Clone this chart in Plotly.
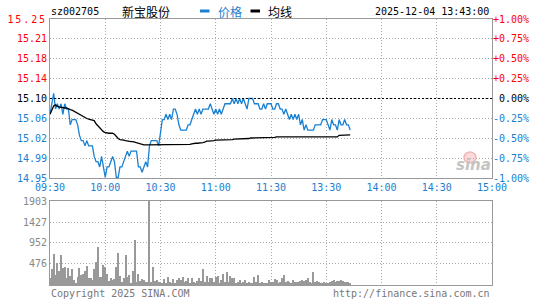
import plotly.graph_objects as go

W, H = 545, 300

prev_close = 15.10
stock_code = "sz002705"
stock_name = "新宝股份"
timestamp = "2025-12-04 13:43:00"

price = [
    15.07, 15.09, 15.11, 15.08, 15.09, 15.08, 15.09, 15.07, 15.09, 15.08,
    15.08, 15.05, 15.06, 15.06, 15.06, 15.05, 15.03, 15.02, 15.02, 15.01,
    15.02, 15.01, 15.01, 15.01, 14.99, 14.98, 14.98, 14.97, 14.99, 14.97,
    14.95, 14.97, 14.97, 14.98, 14.99, 14.98, 14.95, 14.95, 14.97, 14.97,
    14.98, 14.99, 15.00, 14.99, 15.00, 15.00, 15.00, 15.00, 14.97, 14.97,
    14.96, 14.97, 14.98, 14.97, 15.01, 15.02, 15.02, 15.02, 15.02, 15.01,
    15.04, 15.06, 15.06, 15.07, 15.06, 15.07, 15.06, 15.08, 15.08, 15.07,
    15.05, 15.04, 15.04, 15.04, 15.04, 15.05, 15.05, 15.06, 15.07, 15.08,
    15.07, 15.08, 15.07, 15.08, 15.08, 15.08, 15.08, 15.09, 15.08, 15.07,
    15.08, 15.07, 15.08, 15.07, 15.08, 15.09, 15.09, 15.09, 15.09, 15.10,
    15.09, 15.10, 15.09, 15.10, 15.09, 15.10, 15.09, 15.08, 15.10, 15.10,
    15.10, 15.09, 15.09, 15.09, 15.08, 15.08, 15.09, 15.08, 15.09, 15.09,
    15.09, 15.08, 15.08, 15.09, 15.09, 15.08, 15.08, 15.07, 15.08, 15.07,
    15.06, 15.07, 15.06, 15.07, 15.06, 15.07, 15.05, 15.06, 15.04, 15.05,
    15.04, 15.04, 15.04, 15.04, 15.05, 15.05, 15.05, 15.05, 15.06, 15.06,
    15.06, 15.05, 15.04, 15.06, 15.05, 15.05, 15.04, 15.06, 15.05, 15.05,
    15.06, 15.05, 15.05, 15.04,
]

avg_price = [
    15.070, 15.080, 15.086, 15.088, 15.085, 15.084, 15.083, 15.083, 15.082, 15.082,
    15.080, 15.079, 15.078, 15.076, 15.073, 15.072, 15.070, 15.068, 15.066, 15.064,
    15.062, 15.061, 15.060, 15.059, 15.058, 15.052, 15.048, 15.044, 15.040, 15.037,
    15.035, 15.034, 15.034, 15.034, 15.034, 15.032, 15.027, 15.024, 15.022, 15.022,
    15.021, 15.020, 15.019, 15.018, 15.018, 15.018, 15.017, 15.015, 15.014, 15.013,
    15.013, 15.012, 15.012, 15.012, 15.012, 15.012, 15.012, 15.012, 15.012, 15.012,
    15.012, 15.012, 15.012, 15.012, 15.012, 15.012, 15.012, 15.013, 15.013, 15.013,
    15.013, 15.013, 15.013, 15.013, 15.013, 15.013, 15.013, 15.014, 15.015, 15.015,
    15.015, 15.015, 15.015, 15.016, 15.017, 15.019, 15.019, 15.019, 15.020, 15.020,
    15.021, 15.021, 15.021, 15.021, 15.021, 15.021, 15.021, 15.022, 15.022, 15.022,
    15.023, 15.023, 15.024, 15.024, 15.024, 15.024, 15.024, 15.024, 15.024, 15.025,
    15.025, 15.025, 15.025, 15.026, 15.026, 15.026, 15.026, 15.026, 15.026, 15.026,
    15.026, 15.026, 15.026, 15.027, 15.027, 15.027, 15.027, 15.027, 15.027, 15.027,
    15.027, 15.027, 15.027, 15.027, 15.027, 15.027, 15.027, 15.027, 15.027, 15.027,
    15.027, 15.027, 15.027, 15.027, 15.027, 15.027, 15.027, 15.027, 15.027, 15.027,
    15.027, 15.027, 15.027, 15.027, 15.027, 15.027, 15.027, 15.030, 15.030, 15.030,
    15.030, 15.031, 15.031, 15.031,
]

volume = [
    150, 362, 702, 226, 491, 317, 680, 392, 408, 166,
    392, 211, 362, 113, 53, 189, 392, 226, 249, 317,
    430, 150, 166, 113, 362, 513, 868, 189, 189, 453,
    415, 249, 91, 166, 113, 136, 415, 725, 211, 75,
    150, 680, 189, 226, 53, 317, 1019, 75, 249, 91,
    136, 113, 75, 75, 1903, 60, 408, 90, 113, 60,
    75, 53, 128, 30, 181, 75, 53, 128, 53, 113,
    166, 120, 174, 60, 91, 150, 53, 150, 60, 40,
    91, 150, 91, 362, 60, 204, 60, 150, 150, 60,
    189, 211, 53, 113, 257, 60, 294, 60, 204, 150,
    150, 40, 60, 113, 30, 60, 106, 40, 60, 30,
    40, 174, 60, 226, 45, 60, 30, 30, 30, 113,
    60, 60, 136, 113, 30, 60, 166, 226, 60, 91,
    60, 30, 113, 60, 60, 75, 91, 106, 91, 113,
    166, 60, 40, 302, 60, 91, 75, 40, 40, 60,
    40, 40, 75, 91, 113, 60, 91, 91, 113, 91,
    75, 60, 60, 40,
]

minutes = list(range(len(price)))

time_tick_minutes = [0, 30, 60, 90, 120, 150, 180, 210, 240]
time_tick_labels = ["09:30", "10:00", "10:30", "11:00", "11:30", "13:30", "14:00", "14:30", "15:00"]

pct_steps = [-1.00, -0.75, -0.50, -0.25, 0.00, 0.25, 0.50, 0.75, 1.00]
price_labels = ["14.95", "14.99", "15.02", "15.06", "15.10", "15.14", "15.18", "15.21", "15.25"]
pct_labels = ["-1.00%", "-0.75%", "-0.50%", "-0.25%", "\u00a00.00%", "+0.25%", "+0.50%", "+0.75%", "+1.00%"]

vol_ticks = [476, 952, 1427, 1903]
vol_labels = ["476", "952", "1427", "1903"]

RED = "#ff0000"
BLUE = "#1a80d2"
BLACK = "#000000"
GRAY = "#999999"
MONO = "DejaVu Sans Mono"
CJK = "Noto Sans CJK SC"

def col(s):
    return RED if s > 0 else (BLACK if s == 0 else BLUE)

price_ticks = [prev_close * (1 + s / 100) for s in pct_steps]
left_text = []
for s, lab in zip(pct_steps, price_labels):
    if s == 1.00:
        left_text.append(f"<span style='color:{col(s)};letter-spacing:1.9px'>{lab}</span>")
    else:
        left_text.append(f"<span style='color:{col(s)}'>{lab}</span>")
right_text = [f"<span style='color:{col(s)}'>{lab}</span>" for s, lab in zip(pct_steps, pct_labels)]

ylo, yhi = price_ticks[0], price_ticks[-1]
eps = 1e-6

def px_x(v):
    return v / W

def px_y(v):
    return 1 - v / H

x0, x1 = 50, 492
xdom = [px_x(x0), px_x(x1)]

fig = go.Figure()
fig.add_trace(go.Scatter(x=minutes, y=price, mode="lines", line=dict(color=BLUE, width=1.3),
                         xaxis="x", yaxis="y", hoverinfo="skip"))
fig.add_trace(go.Scatter(x=minutes, y=avg_price, mode="lines", line=dict(color=BLACK, width=1.3),
                         xaxis="x", yaxis="y", hoverinfo="skip"))
fig.add_trace(go.Scatter(x=[0, 240], y=[prev_close, prev_close], mode="lines",
                         line=dict(color=BLACK, width=1, dash="2px,2px"), xaxis="x", yaxis="y3",
                         hoverinfo="skip"))
fig.add_trace(go.Bar(x=minutes, y=volume, marker=dict(color=GRAY, line=dict(width=0)), width=0.55,
                     xaxis="x2", yaxis="y2", hoverinfo="skip"))

grid = dict(showgrid=True, gridcolor="#aaaaaa", gridwidth=1, griddash="1px,2px")
border = dict(showline=True, mirror=True, linecolor=GRAY, linewidth=1)

fig.update_layout(
    width=W, height=H, margin=dict(l=0, r=0, t=0, b=0, autoexpand=False),
    paper_bgcolor="white", plot_bgcolor="white", showlegend=False, bargap=0,
    font=dict(family=MONO, size=10, color=BLUE),
    xaxis=dict(domain=xdom, range=[0, 240], tickmode="array", tickvals=time_tick_minutes,
               ticktext=time_tick_labels, ticks="", tickfont=dict(family=MONO, size=10, color=BLUE),
               zeroline=False, anchor="y", automargin=False, **grid, **border),
    yaxis=dict(domain=[px_y(178), px_y(19)], range=[ylo - eps, yhi + eps], tickmode="array",
               tickvals=price_ticks, ticktext=left_text, ticks="", zeroline=False, automargin=False,
               tickfont=dict(family=MONO, size=10), anchor="x", **grid, **border),
    yaxis3=dict(overlaying="y", side="right", range=[ylo - eps, yhi + eps], tickmode="array",
                tickvals=price_ticks, ticktext=right_text, ticks="", showgrid=False, zeroline=False,
                automargin=False, tickfont=dict(family=MONO, size=10), anchor="x"),
    xaxis2=dict(domain=xdom, range=[0, 240], tickmode="array", tickvals=time_tick_minutes,
                showticklabels=False, ticks="", zeroline=False, anchor="y2", automargin=False,
                **grid, **border),
    yaxis2=dict(domain=[px_y(285), px_y(201)], range=[0, 1903 + 0.01], tickmode="array",
                tickvals=vol_ticks, ticktext=vol_labels, ticks="", zeroline=False, automargin=False,
                tickfont=dict(family=MONO, size=10, color="#888888"), anchor="x2", **grid, **border),
)

ann = []
def text(x, y, s, anchor="left", size=10, color=BLACK, family=MONO):
    ann.append(dict(x=px_x(x), y=px_y(y), xref="paper", yref="paper", text=s, showarrow=False,
                    xanchor=anchor, yanchor="middle", font=dict(family=family, size=size, color=color)))

text(49, 11.5, stock_code, size=10)
text(120, 11.5, stock_name, size=12, family=CJK)
text(215.5, 11.5, "价格", size=12, color=BLUE, family=CJK)
text(265.5, 11.5, "均线", size=12, family=CJK)
text(491, 11.5, timestamp, anchor="right", size=10)
text(49, 293, "Copyright 2025 SINA.COM", size=10, color="#777777")
text(492, 293, "http://finance.sina.com.cn", anchor="right", size=10, color="#777777")
ann.append(dict(x=px_x(473), y=px_y(164.5), xref="paper", yref="paper", text="<b><i>sina</i></b>",
                showarrow=False, xanchor="center", yanchor="middle",
                font=dict(family="DejaVu Sans", size=15, color="#c4c4c4")))
fig.update_layout(annotations=ann)

shapes = [
    dict(type="line", xref="paper", yref="paper", x0=px_x(200), x1=px_x(209.5), y0=px_y(11), y1=px_y(11),
         line=dict(color=BLUE, width=3)),
    dict(type="line", xref="paper", yref="paper", x0=px_x(250.5), x1=px_x(260), y0=px_y(11), y1=px_y(11),
         line=dict(color=BLACK, width=3)),
    dict(type="circle", xref="paper", yref="paper", x0=px_x(464), x1=px_x(476), y0=px_y(163), y1=px_y(152),
         line=dict(color="#f2b4b4", width=1.5), fillcolor="rgba(240,150,150,0.35)"),
]
fig.update_layout(shapes=shapes)

fig.write_html("out.html")
